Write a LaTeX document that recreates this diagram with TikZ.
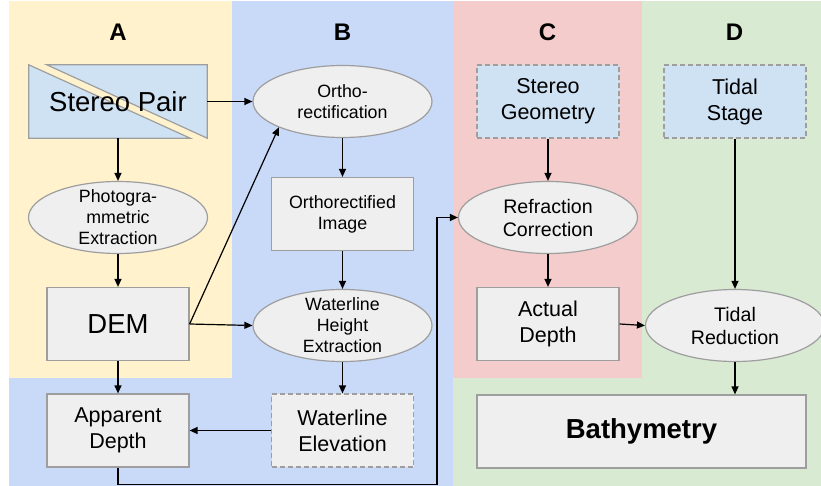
\documentclass[tikz,border=0pt]{standalone}
\usepackage{fontspec}
\setmainfont{Liberation Sans}
\usepackage{tikz}
\usetikzlibrary{shapes.geometric,arrows.meta,positioning,calc,backgrounds}
\definecolor{zoneyellow}{HTML}{FFF2CC}
\definecolor{zoneblue}{HTML}{C9DAF8}
\definecolor{zonepink}{HTML}{F4CCCC}
\definecolor{zonegreen}{HTML}{D9EAD3}
\definecolor{boxgray}{HTML}{EFEFEF}
\definecolor{edgegray}{HTML}{9E9E9E}
\definecolor{inputblue}{HTML}{CFE2F3}

\begin{document}
\begin{tikzpicture}[x=1pt, y=-1pt, >={Stealth[inset=0pt, length=8pt, width=7pt]},
    every node/.style={align=center, inner sep=0pt},
    databox/.style={rectangle, draw=edgegray, fill=boxgray, line width=1.2pt, minimum width=142pt, minimum height=73pt},
    inputbox/.style={databox, fill=inputblue, dash pattern=on 5pt off 3pt},
    derivedbox/.style={databox, dash pattern=on 5pt off 3pt},
    procell/.style={ellipse, draw=edgegray, fill=boxgray, line width=1.2pt, minimum width=179pt, minimum height=72pt, inner ysep=-10pt},
    flow/.style={->, line width=1.2pt, black},
    zonelabel/.style={font=\fontsize{24}{28}\selectfont\bfseries},
    bigtxt/.style={font=\fontsize{27.5}{33}\selectfont},
    midtxt/.style={font=\fontsize{21.5}{26}\selectfont},
    medtxt/.style={font=\fontsize{19.6}{23}\selectfont},
    smalltxt/.style={font=\fontsize{17.8}{21}\selectfont}]
    \useasboundingbox (0,0) rectangle (821,486);

    % Zone A: stereo imagery
    \node[zonelabel] (labA) at (118,32.5) {A};
    \node[bigtxt, minimum width=178pt, minimum height=73pt] (pair) at (118,101.5) {Stereo Pair};
    \node[procell, smalltxt] (photo) at (118,217.5) {Photogra-\\mmetric\\Extraction};
    \node[databox, bigtxt] (dem) at (118,324) {DEM};

    % Zone B: waterline
    \node[zonelabel] (labB) at (342.5,32.5) {B};
    \node[procell, smalltxt] (ortho) at (342.5,101.5) {Ortho-\\rectification};
    \node[databox, smalltxt] (orthoimg) at (342.5,214) {Orthorectified\\Image};
    \node[procell, smalltxt] (wlhx) at (342.5,325.5) {Waterline\\Height\\Extraction};
    \node[derivedbox, midtxt] (wlelev) at (342.5,430.5) {Waterline\\Elevation};
    \node[databox, midtxt] (appdepth) at (118,430.5) {Apparent\\Depth};

    % Zone C: refraction
    \node[zonelabel] (labC) at (547.5,32.5) {C};
    \node[inputbox, midtxt] (stgeo) at (548,101.5) {Stereo\\Geometry};
    \node[procell, medtxt] (refrac) at (548,217.5) {Refraction\\Correction};
    \node[databox, midtxt] (actdepth) at (548,324) {Actual\\Depth};

    % Zone D: tides
    \node[zonelabel] (labD) at (734.5,32.5) {D};
    \node[inputbox, midtxt] (tidestage) at (735,101.5) {Tidal\\Stage};
    \node[procell, medtxt] (tidered) at (735,325.5) {Tidal\\Reduction};
    \node[databox, font=\fontsize{27.5}{33}\selectfont\bfseries, minimum width=329pt] (bathy) at (641.5,431.5) {Bathymetry};

    \coordinate (loopfoot) at (437,484.5);

    % Connectors
    \draw[flow] (pair.east) -- (ortho.west);
    \draw[flow] (pair.south) -- (photo.north);
    \draw[flow] (photo.south) -- (dem.north);
    \draw[flow] (dem.east) -- (ortho.south west);
    \draw[flow] (dem.east) -- (wlhx.west);
    \draw[flow] (dem.south) -- (appdepth.north);
    \draw[flow] (ortho.south) -- (orthoimg.north);
    \draw[flow] (orthoimg.south) -- (wlhx.north);
    \draw[flow] (wlhx.south) -- (wlelev.north);
    \draw[flow] (wlelev.west) -- (appdepth.east);
    \draw[flow] (appdepth.south) |- (loopfoot) |- (refrac.west);
    \draw[flow] (stgeo.south) -- (refrac.north);
    \draw[flow] (refrac.south) -- (actdepth.north);
    \draw[flow] (actdepth.east) -- (tidered.west);
    \draw[flow] (tidestage.south) -- (tidered.north);
    \draw[flow] (tidered.south) -- (tidered.south |- bathy.north);

    % Zone backgrounds and the split input shape
    \begin{scope}[on background layer]
        \fill[zoneyellow] (9,1) rectangle (232,378);
        \fill[zoneblue] (232,1) rectangle (453,486);
        \fill[zoneblue] (9,378) rectangle (232,486);
        \fill[zonepink] (453,1) rectangle (642,378);
        \fill[zonegreen] (642,1) rectangle (821,486);
        \fill[zonegreen] (453,378) rectangle (642,486);
        \filldraw[fill=inputblue, draw=edgegray, line width=1.2pt] (pair.north west) -- ($(pair.south east)+(-17,0)$) -- (pair.south west) -- cycle;
        \filldraw[fill=inputblue, draw=edgegray, line width=1.2pt] ($(pair.north west)+(18,0)$) -- (pair.north east) -- (pair.south east) -- cycle;
    \end{scope}
\end{tikzpicture}
\end{document}
